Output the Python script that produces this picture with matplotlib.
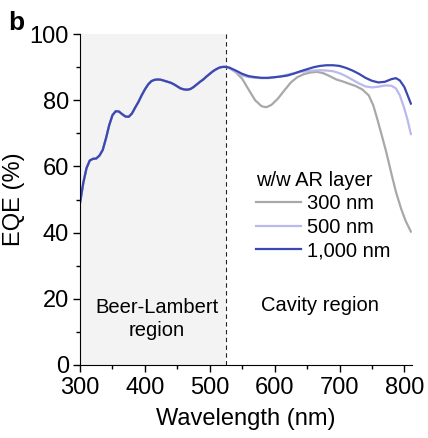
import matplotlib.pyplot as plt

plt.rcParams['font.family'] = ['Liberation Sans', 'DejaVu Sans']

# shared part (Beer-Lambert region), all three curves overlap here
wl_left = [300, 305, 310, 315, 320, 325, 330, 335, 340, 345, 350, 355, 360, 365,
           370, 375, 380, 385, 390, 395, 400, 405, 410, 415, 420, 425, 430, 435,
           440, 445, 450, 455, 460, 465, 470, 475, 480, 485, 490, 495, 500, 505,
           510, 515, 520]
eqe_left = [49, 55, 59.5, 61.8, 62.3, 62.4, 63.3, 65, 68.5, 72.5, 75.5, 76.7, 76.6, 75.8,
            75.1, 75, 76, 77.8, 79.5, 81.5, 83.3, 84.8, 85.8, 86.2, 86.3, 86.2, 85.9, 85.6,
            85.3, 84.8, 84.2, 83.6, 83.3, 83.2, 83.4, 84, 84.8, 85.6, 86.3, 87.2, 88, 88.8,
            89.4, 89.9, 90.1]

# cavity region
wl_1000 = [525, 530, 540, 550, 560, 570, 580, 590, 600, 610, 620, 630, 640, 650, 660,
           670, 680, 690, 700, 710, 720, 730, 740, 750, 760, 770, 780, 787, 793, 800,
           805, 810]
eqe_1000 = [90.1, 89.9, 89, 88, 87.3, 87, 86.8, 86.8, 87, 87.2, 87.5, 88.1, 88.8, 89.4, 90,
            90.4, 90.6, 90.6, 90.4, 89.8, 89, 88, 86.8, 85.9, 85.4, 85.6, 86.4, 86.7, 86, 84,
            81.5, 79]

wl_500 = [525, 530, 540, 550, 560, 570, 580, 590, 600, 610, 620, 630, 640, 650, 660,
          670, 680, 690, 700, 710, 720, 730, 740, 750, 760, 770, 780, 787, 793, 800,
          805, 810]
eqe_500 = [90.1, 89.7, 88.6, 87.5, 87, 86.8, 86.7, 86.7, 86.9, 87.3, 87.8, 88.2, 88.6, 88.8, 89,
           89.1, 89, 88.8, 88.2, 87.3, 86.2, 85.1, 84.2, 83.9, 84.1, 84.5, 84.4, 83.6, 81.5, 77.5,
           74, 69.8]

wl_300 = [525, 530, 540, 550, 560, 570, 580, 587, 595, 605, 615, 625, 635, 645, 655,
          665, 675, 685, 695, 705, 715, 725, 735, 745, 752, 758, 765, 772, 780, 787,
          795, 802, 810]
eqe_300 = [90.1, 89.8, 88.5, 86.5, 83.2, 80, 78.2, 77.9, 78.6, 80.5, 83, 85.4, 87, 87.9, 88.4,
           88.6, 88.2, 87.3, 86.3, 85.7, 85, 84.3, 83.3, 81.5, 78.5, 74.5, 69.5, 64.4, 57.8, 52.3,
           47.2, 43.5, 40.3]

labels = ['300 nm', '500 nm', '1,000 nm']
colors = ['#a8a8a8', '#b9b9ee', '#3b48b2']

fig = plt.figure(figsize=(4.28, 4.38), dpi=100)
ax = fig.add_axes([0.187, 0.167, 0.776, 0.755])

ax.axvspan(300, 525, color='#f3f3f3', lw=0, zorder=0)
ax.axvline(525, color='#222222', ls=(0, (4, 3)), lw=0.8, zorder=1)

ax.plot(wl_left + wl_300, eqe_left + eqe_300, color=colors[0], lw=1.6, label=labels[0])
ax.plot(wl_left + wl_500, eqe_left + eqe_500, color=colors[1], lw=1.6, label=labels[1])
ax.plot(wl_left + wl_1000, eqe_left + eqe_1000, color=colors[2], lw=1.6, label=labels[2])

ax.set_xlim(300, 812)
ax.set_ylim(0, 100)
ax.set_xticks([300, 400, 500, 600, 700, 800])
ax.set_xticks(range(350, 812, 100), minor=True)
ax.set_yticks(range(0, 101, 20))
ax.set_yticks(range(10, 100, 20), minor=True)
ax.tick_params(labelsize=17, length=5, width=1)
ax.tick_params(axis='x', pad=4)
ax.tick_params(axis='y', pad=3)
ax.tick_params(which='minor', length=3, width=1)
for s in ['top', 'right']:
    ax.spines[s].set_visible(False)
ax.set_xlabel('Wavelength (nm)', fontsize=17, labelpad=6)
ax.set_ylabel('EQE (%)', fontsize=17, labelpad=3)

ax.text(418, 13.9, 'Beer-Lambert\nregion', ha='center', va='center', fontsize=14.5,
        linespacing=1.25)
ax.text(670, 17.8, 'Cavity region', ha='center', va='center', fontsize=14.5)

leg = ax.legend(title='w/w AR layer', loc='upper left', bbox_to_anchor=(0.53, 0.587),
                frameon=False, fontsize=14.5, title_fontsize=14.5, handlelength=2.25,
                handletextpad=0.3, labelspacing=0.22, borderpad=0, borderaxespad=0)
leg._legend_box.align = 'left'

fig.text(0.02, 0.975, 'b', fontsize=19, fontweight='bold', va='top')

fig.savefig('out.png', dpi=100)
